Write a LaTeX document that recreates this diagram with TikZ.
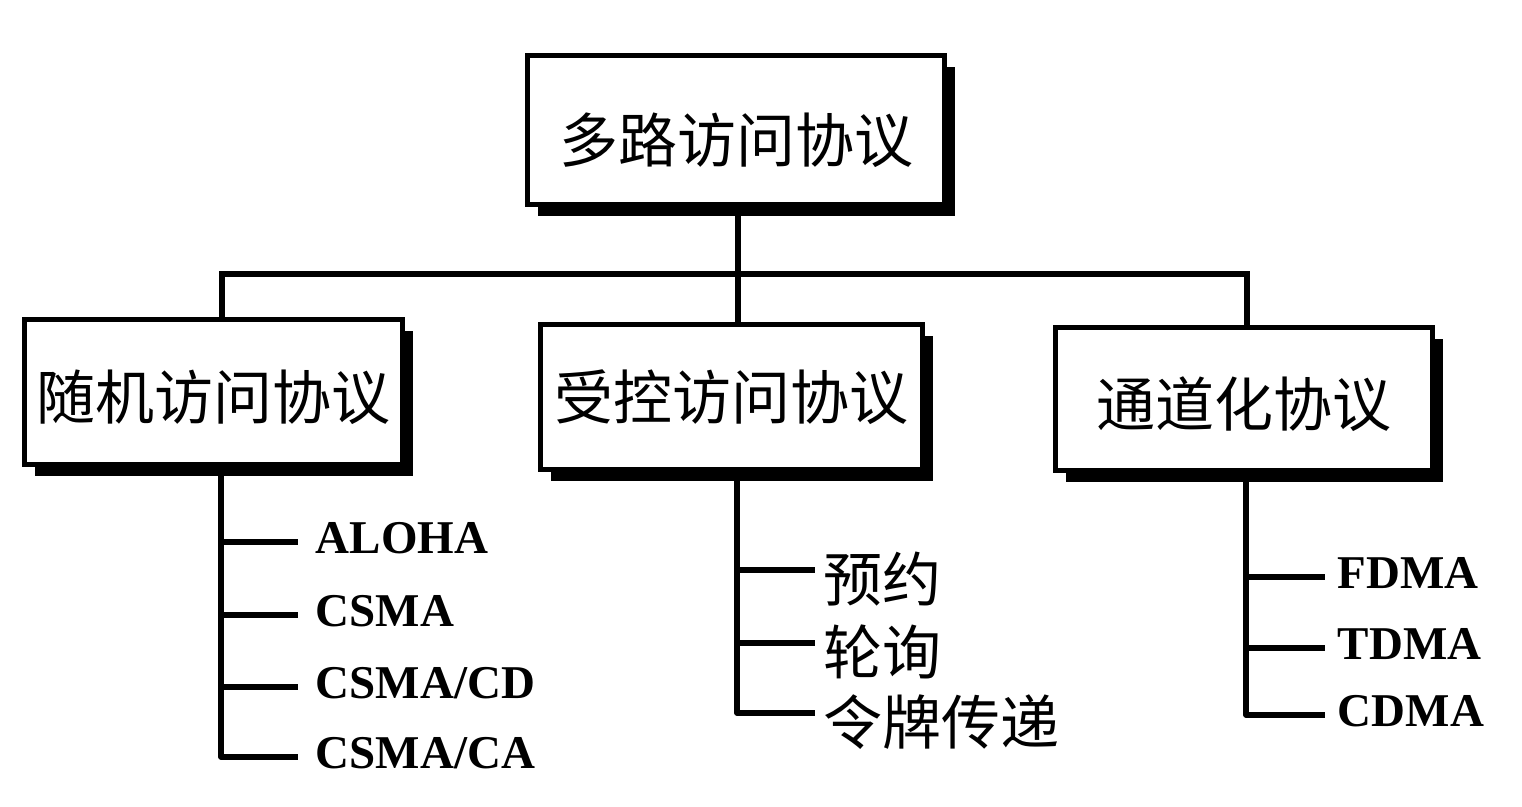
\documentclass[tikz,border=0pt]{standalone}
\usepackage{fontspec}
\setmainfont{Liberation Serif}
\newfontfamily\cjk{Noto Sans CJK SC}
\usetikzlibrary{shadows}
\newcommand{\dropby}[2]{\raisebox{-#1pt}[\height][\depth]{#2}}
\begin{document}
\begin{tikzpicture}[x=1pt,y=-1pt,
  line width=5.5pt,
  protobox/.style={draw, line width=5pt, fill=white, inner sep=0pt,
    font=\cjk\fontsize{59}{62}\selectfont,
    drop shadow={shadow xshift=10pt, shadow yshift=-11pt, fill=black, opacity=1}},
  latinitem/.style={anchor=west, inner ysep=0pt, inner xsep=0pt,
    text height=22pt, text depth=0pt, font=\bfseries\fontsize{47}{50}\selectfont},
  cjkitem/.style={anchor=west, inner ysep=0pt, inner xsep=0pt,
    text height=62pt, text depth=0pt, font=\cjk\fontsize{59}{62}\selectfont}]
\useasboundingbox (0,0) rectangle (1522,806);

% boxes
\node[protobox, minimum width=417pt, minimum height=149pt] (top) at (736,130) {\dropby{10}{多路访问协议}};
\node[protobox, minimum width=378pt, minimum height=145pt] (L) at (213.5,392) {\dropby{5}{随机访问协议}};
\node[protobox, minimum width=382pt, minimum height=145pt] (M) at (731.5,397) {\dropby{0}{受控访问协议}};
\node[protobox, minimum width=377pt, minimum height=143pt] (R) at (1244,399) {\dropby{5}{通道化协议}};

% junction line
\coordinate (hl) at (0,274);
\coordinate (lx) at (222,0);
\coordinate (mx) at (738,0);
\coordinate (rx) at (1247,0);
\draw (mx |- top.south) -- (mx |- hl);
\draw (lx |- L.north) |- (rx |- hl) -- (rx |- R.north);
\draw (mx |- hl) -- (mx |- M.north);

% left items
\node[latinitem] (a1) at (313,542) {ALOHA};
\node[latinitem] (a2) at (313,615) {CSMA};
\node[latinitem] (a3) at (313,687) {CSMA/CD};
\node[latinitem] (a4) at (313,757) {CSMA/CA};
\coordinate (lv) at (221,0);
\draw[line join=round] (lv |- L.south) |- ([xshift=-15pt]a4.west);
\foreach \n in {a1,a2,a3}
  \draw (lv |- \n.west) -- ([xshift=-15pt]\n.west);

% middle items
\node[cjkitem] (b1) at (821,570) {预约};
\node[cjkitem] (b2) at (821,643) {轮询};
\node[cjkitem] (b3) at (821,713) {令牌传递};
\coordinate (mv) at (737,0);
\draw[line join=round] (mv |- M.south) |- ([xshift=-6pt]b3.west);
\foreach \n in {b1,b2}
  \draw (mv |- \n.west) -- ([xshift=-6pt]\n.west);

% right items
\node[latinitem] (c1) at (1335,577) {FDMA};
\node[latinitem] (c2) at (1335,648) {TDMA};
\node[latinitem] (c3) at (1335,715) {CDMA};
\coordinate (rv) at (1246,0);
\draw[line join=round] (rv |- R.south) |- ([xshift=-10pt]c3.west);
\foreach \n in {c1,c2}
  \draw (rv |- \n.west) -- ([xshift=-10pt]\n.west);
\end{tikzpicture}
\end{document}
